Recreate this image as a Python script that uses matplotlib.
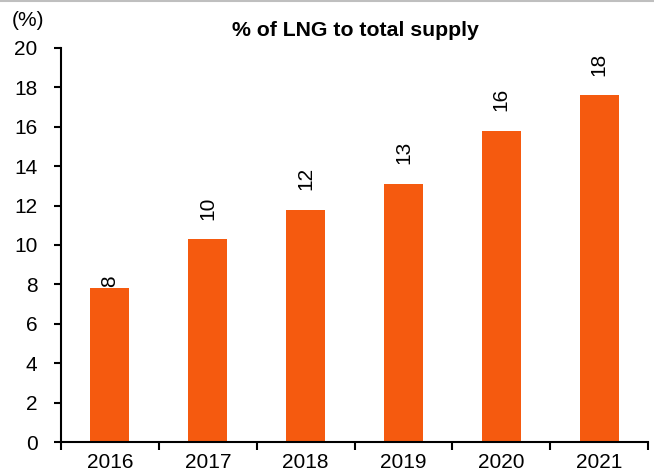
import matplotlib
matplotlib.use("Agg")
import matplotlib.pyplot as plt
import numpy as np

plt.rcParams['font.family'] = ['Liberation Sans', 'DejaVu Sans']

years = ["2016", "2017", "2018", "2019", "2020", "2021"]
values = [7.8, 10.3, 11.8, 13.1, 15.8, 17.6]
labels = ["8", "10", "12", "13", "16", "18"]
color = "#F55A0F"

fig = plt.figure(figsize=(6.54, 4.75), dpi=100)
ax = fig.add_axes([61/654, 1-442/475, (648-61)/654, (442-48)/475])

x = np.arange(len(years))
ax.bar(x, values, width=0.4, color=color)
for xi, v, lab in zip(x, values, labels):
    off = 14 if len(lab) > 1 else 1
    ax.annotate(lab, (xi, v), xytext=(0, off), textcoords="offset points",
                rotation=90, ha="center", va="bottom", fontsize=15)

ax.set_xlim(-0.5, len(years) - 0.5)
ax.set_ylim(0, 20)
ax.set_yticks(range(0, 21, 2))
ax.tick_params(axis='y', labelsize=15, direction='out', length=5, width=1.5, pad=12)
ax.set_xticks(x)
ax.set_xticklabels(years, fontsize=15)
ax.tick_params(axis='x', which='major', length=0, pad=8)
ax.set_xticks(np.arange(-0.5, len(years)), minor=True)
ax.tick_params(axis='x', which='minor', length=6, width=1.5, direction='out')
for s in ['top', 'right']:
    ax.spines[s].set_visible(False)
for s in ['left', 'bottom']:
    ax.spines[s].set_linewidth(1.5)

fig.add_artist(plt.Line2D([0, 1], [0.998, 0.998], transform=fig.transFigure,
                          color="#BFBFBF", linewidth=1.5))

fig.text(355/654, 1-31/475, "% of LNG to total supply", ha="center", va="center",
         fontsize=15.3, fontweight="bold")
fig.text(12/654, 1-20/475, "(%)", ha="left", va="center", fontsize=15)

fig.savefig("out.png", dpi=100)
